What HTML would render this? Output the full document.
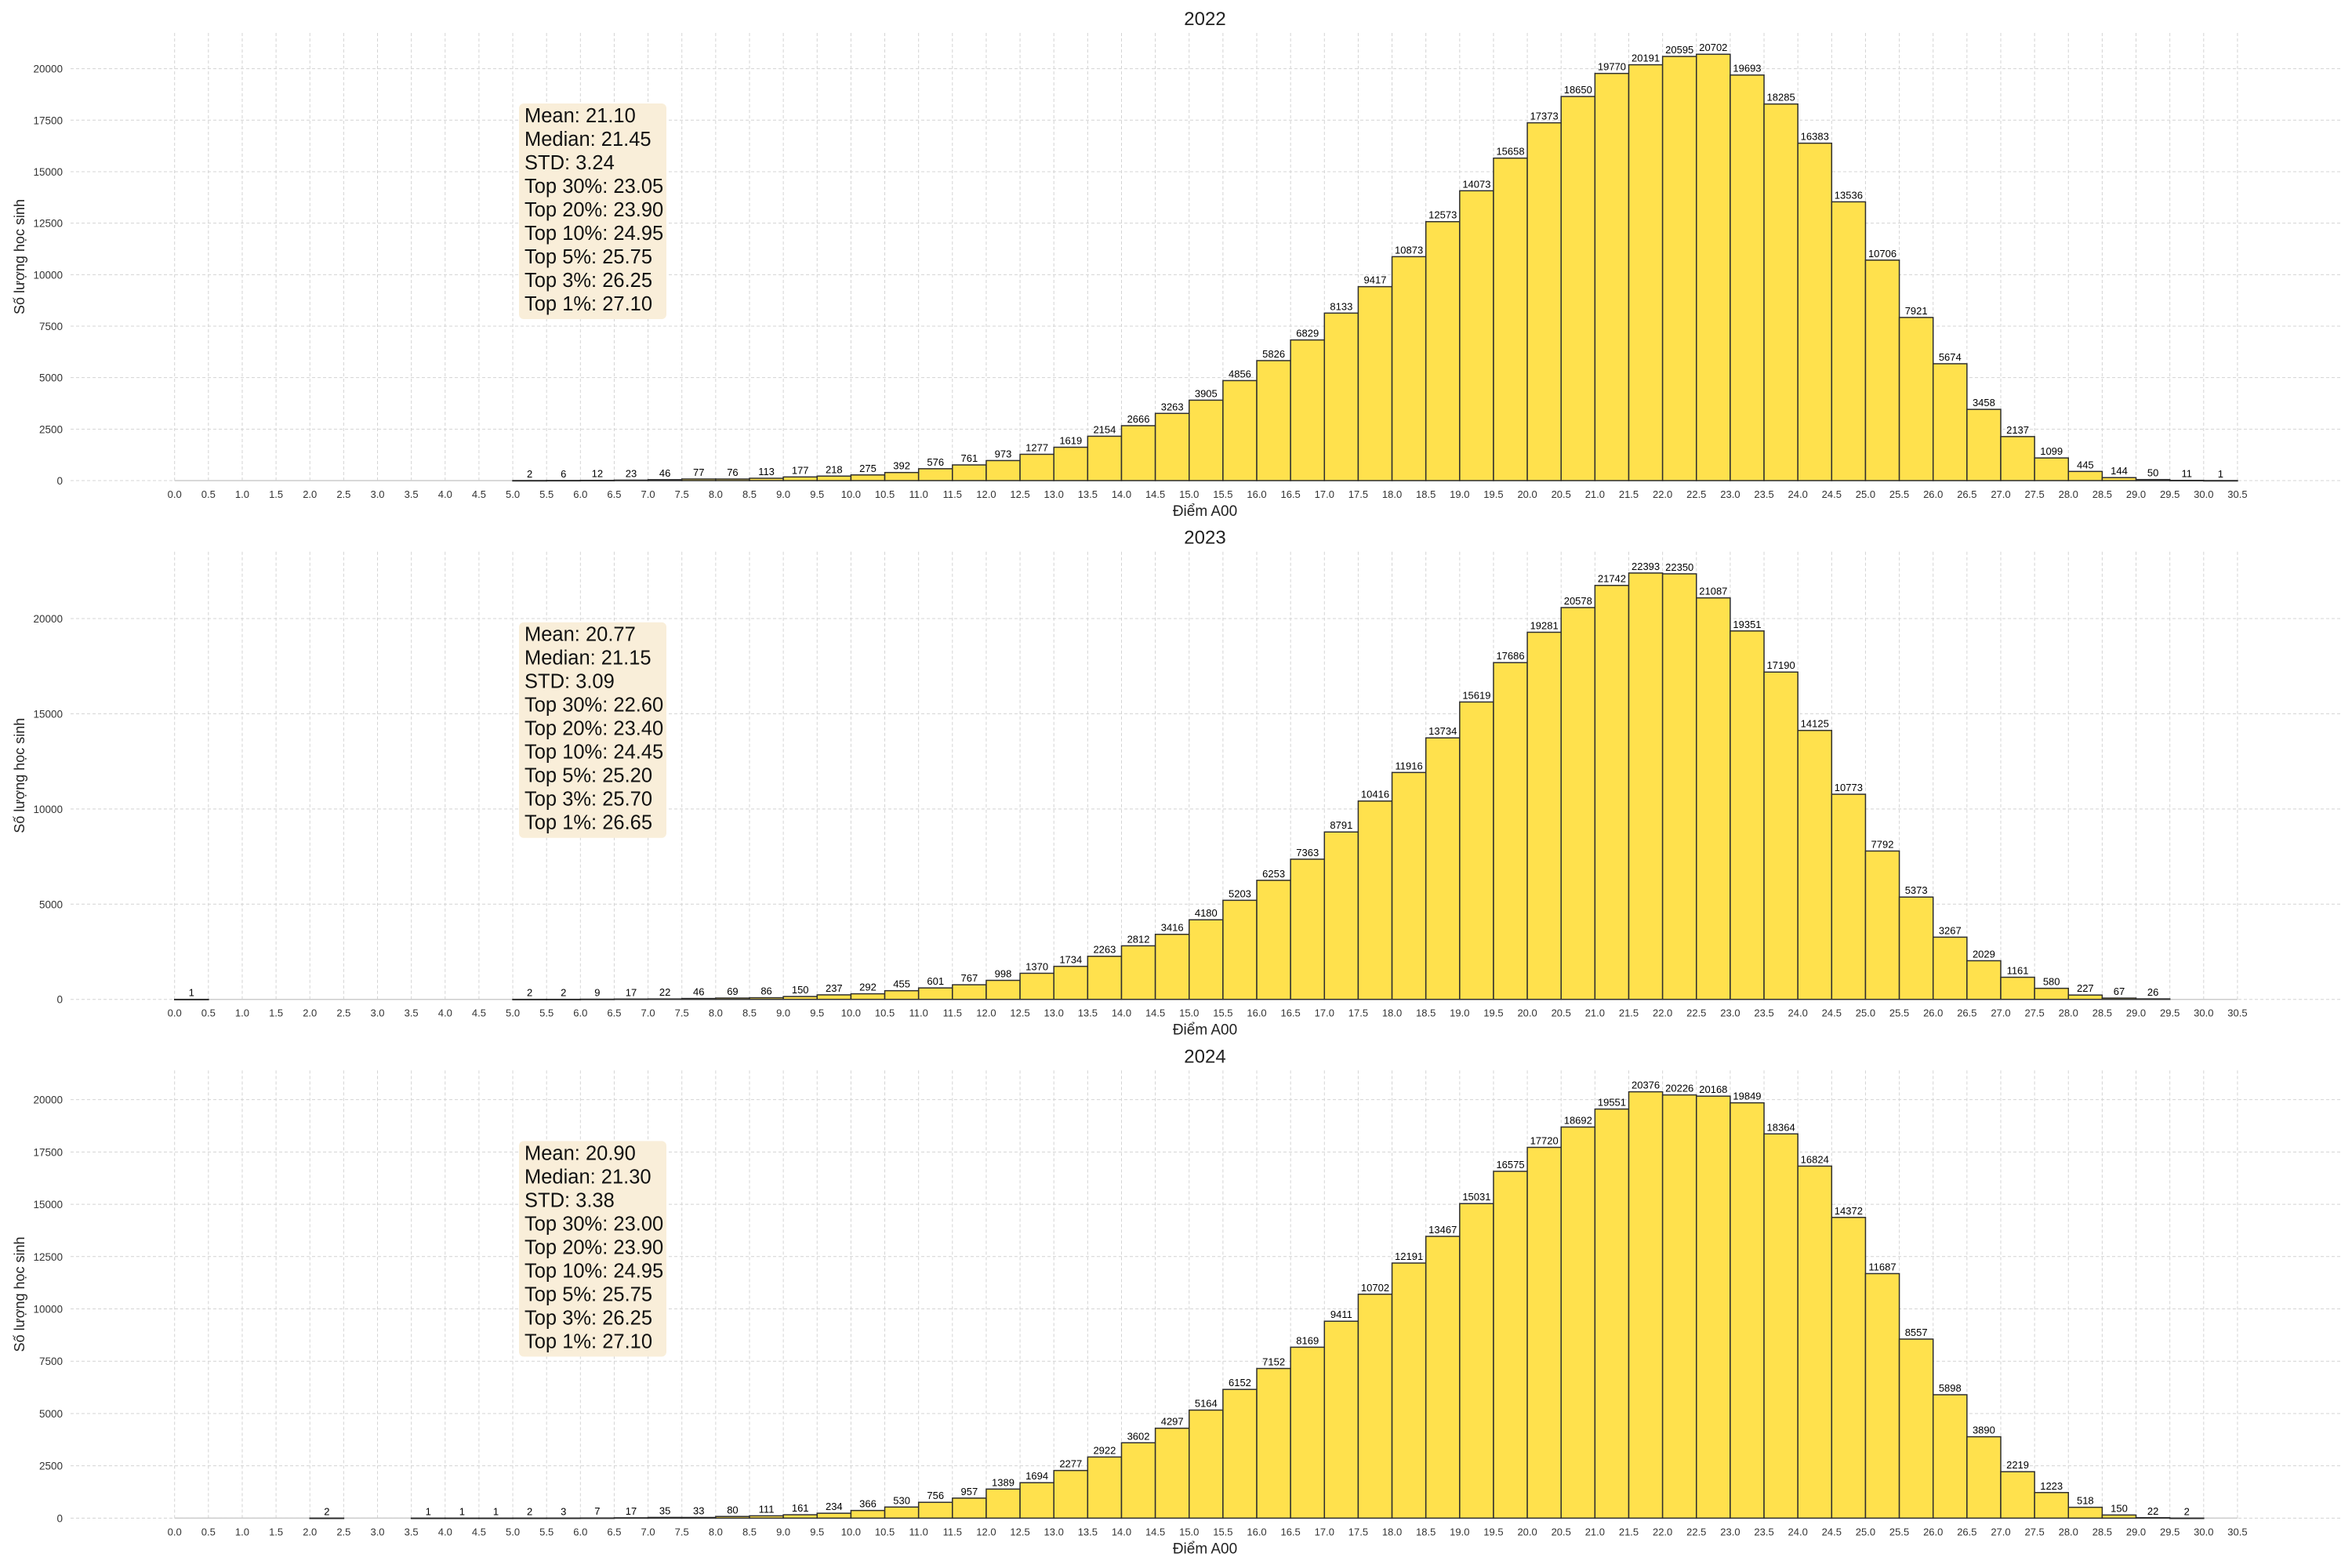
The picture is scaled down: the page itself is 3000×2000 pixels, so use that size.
<!DOCTYPE html>
<html><head><meta charset="utf-8"><style>
html,body{margin:0;padding:0;background:#fff;}
svg{display:block;font-family:"Liberation Sans",Arial,sans-serif;}
</style></head><body>
<svg id="chart" width="3000" height="2000" viewBox="0 0 3000 2000" xmlns="http://www.w3.org/2000/svg"></svg>
<script>
const years = ["2022","2023","2024"];
const binStart = 0; const binWidth = 0.5;
const counts2022 = [0,0,0,0,0,0,0,0,0,0,2,6,12,23,46,77,76,113,177,218,275,392,576,761,973,1277,1619,2154,2666,3263,3905,4856,5826,6829,8133,9417,10873,12573,14073,15658,17373,18650,19770,20191,20595,20702,19693,18285,16383,13536,10706,7921,5674,3458,2137,1099,445,144,50,11,1];
const counts2023 = [1,0,0,0,0,0,0,0,0,0,2,2,9,17,22,46,69,86,150,237,292,455,601,767,998,1370,1734,2263,2812,3416,4180,5203,6253,7363,8791,10416,11916,13734,15619,17686,19281,20578,21742,22393,22350,21087,19351,17190,14125,10773,7792,5373,3267,2029,1161,580,227,67,26,0,0];
const counts2024 = [0,0,0,0,2,0,0,1,1,1,2,3,7,17,35,33,80,111,161,234,366,530,756,957,1389,1694,2277,2922,3602,4297,5164,6152,7152,8169,9411,10702,12191,13467,15031,16575,17720,18692,19551,20376,20226,20168,19849,18364,16824,14372,11687,8557,5898,3890,2219,1223,518,150,22,2,0];
const stats2022 = ["Mean: 21.10","Median: 21.45","STD: 3.24","Top 30%: 23.05","Top 20%: 23.90","Top 10%: 24.95","Top 5%: 25.75","Top 3%: 26.25","Top 1%: 27.10"];
const stats2023 = ["Mean: 20.77","Median: 21.15","STD: 3.09","Top 30%: 22.60","Top 20%: 23.40","Top 10%: 24.45","Top 5%: 25.20","Top 3%: 25.70","Top 1%: 26.65"];
const stats2024 = ["Mean: 20.90","Median: 21.30","STD: 3.38","Top 30%: 23.00","Top 20%: 23.90","Top 10%: 24.95","Top 5%: 25.75","Top 3%: 26.25","Top 1%: 27.10"];
const yTicks2022 = [0,2500,5000,7500,10000,12500,15000,17500,20000];
const yTicks2023 = [0,5000,10000,15000,20000];
const yTicks2024 = [0,2500,5000,7500,10000,12500,15000,17500,20000];
const xTicks = [];
for (let i = 0; i <= 61; i++) xTicks.push(i * 0.5);

const allCounts = [counts2022, counts2023, counts2024];
const allStats = [stats2022, stats2023, stats2024];
const allYTicks = [yTicks2022, yTicks2023, yTicks2024];

const NS = "http://www.w3.org/2000/svg";
const svg = document.getElementById("chart");
function mk(tag, attrs, parent) {
  const e = document.createElementNS(NS, tag);
  for (const k in attrs) e.setAttribute(k, attrs[k]);
  (parent || svg).appendChild(e);
  return e;
}
const axL = 90, axR = 2985, x0px = 222.7, pxPerUnit = 86.27;
function xS(v) { return x0px + v * pxPerUnit; }

for (let c = 0; c < 3; c++) {
  const top = 42 + c * 661.7, base = 613 + c * 661.7;
  const counts = allCounts[c];
  const ymax = Math.max(...counts) * 1.05;
  const yS = v => base - v / ymax * (base - top);
  const g = mk("g", {});
  
  

  allYTicks[c].forEach(t => {
    const y = yS(t);
    const gl = mk("line", {x1: axL, x2: axR, y1: y, y2: y, stroke: "#d4d4d4", "stroke-width": 1, "stroke-dasharray": "4,3"}, g);
    
    
    const tl = mk("text", {x: 80, y: y + 5, "text-anchor": "end", "font-size": 13.5, fill: "#333"}, g);
    tl.textContent = t;
    
    
  });
  xTicks.forEach(t => {
    const x = xS(t);
    const gl = mk("line", {x1: x, x2: x, y1: top, y2: base, stroke: "#d4d4d4", "stroke-width": 1, "stroke-dasharray": "4,3"}, g);
    
    
    const tl = mk("text", {x: x, y: base + 22, "text-anchor": "middle", "font-size": 13, fill: "#333"}, g);
    tl.textContent = t.toFixed(1);
    
    
  });
  const sp = mk("line", {x1: xS(0), x2: xS(30.5), y1: base, y2: base, stroke: "#cccccc", "stroke-width": 1.5}, g);
  
  

  counts.forEach((v, i) => {
    if (v <= 0) return;
    const xa = xS(binStart + i * binWidth), xb = xS(binStart + (i + 1) * binWidth);
    const y = yS(v);
    const r = mk("rect", {x: xa, y: y, width: xb - xa, height: Math.max(base - y, 0.5), fill: "#ffe14d", stroke: "#2f2f2f", "stroke-width": 1.5}, g);
    
    
    const lb = mk("text", {x: (xa + xb) / 2, y: y - 4, "text-anchor": "middle", "font-size": 13, fill: "#000"}, g);
    lb.textContent = v;
    
    
  });

  const ti = mk("text", {x: 1537, y: top - 10, "text-anchor": "middle", "font-size": 24, fill: "#222"}, g);
  ti.textContent = years[c];
  
  
  const xl = mk("text", {x: 1537, y: base + 45, "text-anchor": "middle", "font-size": 19, fill: "#222"}, g);
  xl.textContent = "Điểm A00";
  
  
  const yc = (top + base) / 2;
  const yl = mk("text", {x: 31, y: yc, "text-anchor": "middle", "font-size": 18, fill: "#222", transform: "rotate(-90 31 " + yc + ")"}, g);
  yl.textContent = "Số lượng học sinh";
  
  

  const bt = top + 90;
  const bx = mk("rect", {x: 662, y: bt, width: 188, height: 275, rx: 6, fill: "#f9eed9"}, g);
  
  
  allStats[c].forEach((s, k) => {
    const st = mk("text", {x: 669, y: bt + 24 + k * 30, "font-size": 25.5, fill: "#111"}, g);
    st.textContent = s;
    
    
  });
}
</script>
</body></html>
